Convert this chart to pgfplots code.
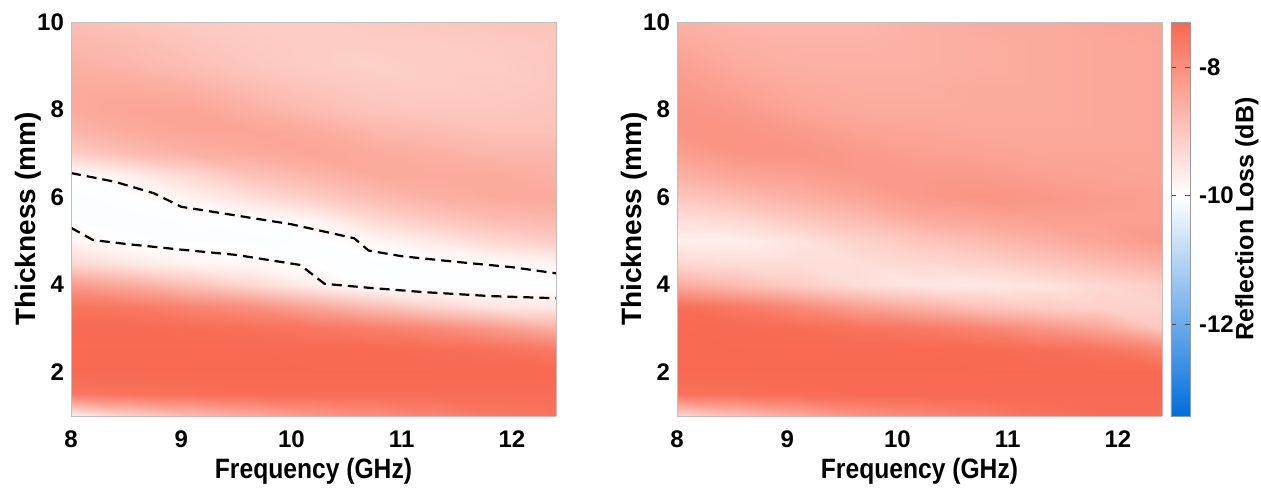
\documentclass[border=0pt]{standalone}
\usepackage{fontspec}
\setmainfont{Liberation Sans}
\usepackage{pgfplots}
\pgfplotsset{compat=1.18}
\usepackage{pgfplotstable}

% x: 8 8.55 9.1 9.65 10.2 10.75 11.3 11.85 12.4 ; y: 1 ... 10 step 0.5
\pgfplotstableread[row sep=\\]{
x y z\\
8 1 -9.8\\ 8.55 1 -9.2\\ 9.1 1 -8.8\\ 9.65 1 -8.5\\ 10.2 1 -8.2\\ 10.75 1 -8.0\\ 11.3 1 -7.8\\ 11.85 1 -7.6\\ 12.4 1 -7.5\\
8 1.5 -7.6\\ 8.55 1.5 -7.5\\ 9.1 1.5 -7.45\\ 9.65 1.5 -7.4\\ 10.2 1.5 -7.4\\ 10.75 1.5 -7.4\\ 11.3 1.5 -7.4\\ 11.85 1.5 -7.4\\ 12.4 1.5 -7.4\\
8 2 -7.33\\ 8.55 2 -7.33\\ 9.1 2 -7.33\\ 9.65 2 -7.33\\ 10.2 2 -7.33\\ 10.75 2 -7.33\\ 11.3 2 -7.33\\ 11.85 2 -7.33\\ 12.4 2 -7.33\\
8 2.5 -7.33\\ 8.55 2.5 -7.33\\ 9.1 2.5 -7.33\\ 9.65 2.5 -7.33\\ 10.2 2.5 -7.35\\ 10.75 2.5 -7.35\\ 11.3 2.5 -7.38\\ 11.85 2.5 -7.45\\ 12.4 2.5 -7.6\\
8 3 -7.35\\ 8.55 3 -7.35\\ 9.1 3 -7.4\\ 9.65 3 -7.45\\ 10.2 3 -7.55\\ 10.75 3 -7.7\\ 11.3 3 -7.9\\ 11.85 3 -8.2\\ 12.4 3 -8.6\\
8 3.5 -7.5\\ 8.55 3.5 -7.6\\ 9.1 3.5 -7.8\\ 9.65 3.5 -8.0\\ 10.2 3.5 -8.4\\ 10.75 3.5 -8.8\\ 11.3 3.5 -9.2\\ 11.85 3.5 -9.5\\ 12.4 3.5 -9.6\\
8 4 -8.2\\ 8.55 4 -8.5\\ 9.1 4 -8.9\\ 9.65 4 -9.3\\ 10.2 4 -9.7\\ 10.75 4 -10.01\\ 11.3 4 -10.03\\ 11.85 4 -10.04\\ 12.4 4 -10.04\\
8 4.5 -9.3\\ 8.55 4.5 -9.6\\ 9.1 4.5 -9.8\\ 9.65 4.5 -9.9\\ 10.2 4.5 -10.01\\ 10.75 4.5 -10.04\\ 11.3 4.5 -10.02\\ 11.85 4.5 -9.95\\ 12.4 4.5 -9.8\\
8 5 -9.8\\ 8.55 5 -10.03\\ 9.1 5 -10.04\\ 9.65 5 -10.05\\ 10.2 5 -10.03\\ 10.75 5 -9.85\\ 11.3 5 -9.6\\ 11.85 5 -9.3\\ 12.4 5 -9.1\\
8 5.5 -10.04\\ 8.55 5.5 -10.05\\ 9.1 5.5 -10.03\\ 9.65 5.5 -10.01\\ 10.2 5.5 -9.8\\ 10.75 5.5 -9.3\\ 11.3 5.5 -9.0\\ 11.85 5.5 -8.8\\ 12.4 5.5 -8.7\\
8 6 -10.05\\ 8.55 6 -10.01\\ 9.1 6 -9.75\\ 9.65 6 -9.4\\ 10.2 6 -9.1\\ 10.75 6 -8.8\\ 11.3 6 -8.6\\ 11.85 6 -8.5\\ 12.4 6 -8.5\\
8 6.5 -10.01\\ 8.55 6.5 -9.7\\ 9.1 6.5 -9.3\\ 9.65 6.5 -8.9\\ 10.2 6.5 -8.7\\ 10.75 6.5 -8.5\\ 11.3 6.5 -8.5\\ 11.85 6.5 -8.5\\ 12.4 6.5 -8.6\\
8 7 -9.1\\ 8.55 7 -8.8\\ 9.1 7 -8.6\\ 9.65 7 -8.5\\ 10.2 7 -8.4\\ 10.75 7 -8.5\\ 11.3 7 -8.6\\ 11.85 7 -8.7\\ 12.4 7 -8.7\\
8 7.5 -8.7\\ 8.55 7.5 -8.5\\ 9.1 7.5 -8.4\\ 9.65 7.5 -8.4\\ 10.2 7.5 -8.5\\ 10.75 7.5 -8.7\\ 11.3 7.5 -8.8\\ 11.85 7.5 -8.9\\ 12.4 7.5 -8.9\\
8 8 -8.5\\ 8.55 8 -8.4\\ 9.1 8 -8.4\\ 9.65 8 -8.6\\ 10.2 8 -8.8\\ 10.75 8 -8.95\\ 11.3 8 -9.0\\ 11.85 8 -9.0\\ 12.4 8 -8.95\\
8 8.5 -8.5\\ 8.55 8.5 -8.5\\ 9.1 8.5 -8.6\\ 9.65 8.5 -8.8\\ 10.2 8.5 -8.95\\ 10.75 8.5 -9.05\\ 11.3 8.5 -9.1\\ 11.85 8.5 -9.05\\ 12.4 8.5 -9.0\\
8 9 -8.6\\ 8.55 9 -8.7\\ 9.1 9 -8.85\\ 9.65 9 -9.0\\ 10.2 9 -9.1\\ 10.75 9 -9.15\\ 11.3 9 -9.1\\ 11.85 9 -9.1\\ 12.4 9 -9.0\\
8 9.5 -8.7\\ 8.55 9.5 -8.8\\ 9.1 9.5 -8.95\\ 9.65 9.5 -9.05\\ 10.2 9.5 -9.1\\ 10.75 9.5 -9.1\\ 11.3 9.5 -9.1\\ 11.85 9.5 -9.05\\ 12.4 9.5 -9.0\\
8 10 -8.85\\ 8.55 10 -8.95\\ 9.1 10 -9.05\\ 9.65 10 -9.1\\ 10.2 10 -9.1\\ 10.75 10 -9.05\\ 11.3 10 -9.0\\ 11.85 10 -8.95\\ 12.4 10 -8.95\\
}\leftdata

\pgfplotstableread[row sep=\\]{
x y z\\
8 1 -9.3\\ 8.55 1 -8.9\\ 9.1 1 -8.5\\ 9.65 1 -8.1\\ 10.2 1 -7.9\\ 10.75 1 -7.7\\ 11.3 1 -7.5\\ 11.85 1 -7.4\\ 12.4 1 -7.4\\
8 1.5 -7.5\\ 8.55 1.5 -7.45\\ 9.1 1.5 -7.4\\ 9.65 1.5 -7.35\\ 10.2 1.5 -7.35\\ 10.75 1.5 -7.35\\ 11.3 1.5 -7.35\\ 11.85 1.5 -7.35\\ 12.4 1.5 -7.35\\
8 2 -7.33\\ 8.55 2 -7.33\\ 9.1 2 -7.33\\ 9.65 2 -7.33\\ 10.2 2 -7.33\\ 10.75 2 -7.33\\ 11.3 2 -7.33\\ 11.85 2 -7.33\\ 12.4 2 -7.33\\
8 2.5 -7.33\\ 8.55 2.5 -7.33\\ 9.1 2.5 -7.33\\ 9.65 2.5 -7.33\\ 10.2 2.5 -7.33\\ 10.75 2.5 -7.35\\ 11.3 2.5 -7.4\\ 11.85 2.5 -7.5\\ 12.4 2.5 -7.8\\
8 3 -7.33\\ 8.55 3 -7.35\\ 9.1 3 -7.4\\ 9.65 3 -7.5\\ 10.2 3 -7.6\\ 10.75 3 -7.8\\ 11.3 3 -8.1\\ 11.85 3 -8.4\\ 12.4 3 -9.0\\
8 3.5 -7.4\\ 8.55 3.5 -7.6\\ 9.1 3.5 -7.9\\ 9.65 3.5 -8.3\\ 10.2 3.5 -8.6\\ 10.75 3.5 -8.9\\ 11.3 3.5 -9.1\\ 11.85 3.5 -9.2\\ 12.4 3.5 -9.2\\
8 4 -8.5\\ 8.55 4 -8.8\\ 9.1 4 -9.1\\ 9.65 4 -9.4\\ 10.2 4 -9.55\\ 10.75 4 -9.6\\ 11.3 4 -9.5\\ 11.85 4 -9.3\\ 12.4 4 -9.1\\
8 4.5 -9.3\\ 8.55 4.5 -9.4\\ 9.1 4.5 -9.4\\ 9.65 4.5 -9.4\\ 10.2 4.5 -9.3\\ 10.75 4.5 -9.2\\ 11.3 4.5 -9.0\\ 11.85 4.5 -8.8\\ 12.4 4.5 -8.6\\
8 5 -9.7\\ 8.55 5 -9.7\\ 9.1 5 -9.5\\ 9.65 5 -9.2\\ 10.2 5 -9.0\\ 10.75 5 -8.8\\ 11.3 5 -8.6\\ 11.85 5 -8.4\\ 12.4 5 -8.2\\
8 5.5 -9.4\\ 8.55 5.5 -9.3\\ 9.1 5.5 -9.0\\ 9.65 5.5 -8.8\\ 10.2 5.5 -8.5\\ 10.75 5.5 -8.4\\ 11.3 5.5 -8.3\\ 11.85 5.5 -8.3\\ 12.4 5.5 -8.3\\
8 6 -9.0\\ 8.55 6 -8.8\\ 9.1 6 -8.6\\ 9.65 6 -8.4\\ 10.2 6 -8.2\\ 10.75 6 -8.1\\ 11.3 6 -8.15\\ 11.85 6 -8.25\\ 12.4 6 -8.3\\
8 6.5 -8.6\\ 8.55 6.5 -8.4\\ 9.1 6.5 -8.3\\ 9.65 6.5 -8.2\\ 10.2 6.5 -8.2\\ 10.75 6.5 -8.2\\ 11.3 6.5 -8.3\\ 11.85 6.5 -8.35\\ 12.4 6.5 -8.4\\
8 7 -8.3\\ 8.55 7 -8.1\\ 9.1 7 -8.1\\ 9.65 7 -8.2\\ 10.2 7 -8.3\\ 10.75 7 -8.35\\ 11.3 7 -8.4\\ 11.85 7 -8.4\\ 12.4 7 -8.4\\
8 7.5 -8.1\\ 8.55 7.5 -8.1\\ 9.1 7.5 -8.2\\ 9.65 7.5 -8.35\\ 10.2 7.5 -8.4\\ 10.75 7.5 -8.45\\ 11.3 7.5 -8.45\\ 11.85 7.5 -8.45\\ 12.4 7.5 -8.4\\
8 8 -8.1\\ 8.55 8 -8.2\\ 9.1 8 -8.4\\ 9.65 8 -8.5\\ 10.2 8 -8.5\\ 10.75 8 -8.5\\ 11.3 8 -8.5\\ 11.85 8 -8.45\\ 12.4 8 -8.4\\
8 8.5 -8.2\\ 8.55 8.5 -8.35\\ 9.1 8.5 -8.5\\ 9.65 8.5 -8.55\\ 10.2 8.5 -8.55\\ 10.75 8.5 -8.5\\ 11.3 8.5 -8.5\\ 11.85 8.5 -8.45\\ 12.4 8.5 -8.4\\
8 9 -8.3\\ 8.55 9 -8.5\\ 9.1 9 -8.6\\ 9.65 9 -8.6\\ 10.2 9 -8.6\\ 10.75 9 -8.55\\ 11.3 9 -8.5\\ 11.85 9 -8.45\\ 12.4 9 -8.4\\
8 9.5 -8.45\\ 8.55 9.5 -8.6\\ 9.1 9.5 -8.65\\ 9.65 9.5 -8.65\\ 10.2 9.5 -8.6\\ 10.75 9.5 -8.55\\ 11.3 9.5 -8.5\\ 11.85 9.5 -8.45\\ 12.4 9.5 -8.4\\
8 10 -8.6\\ 8.55 10 -8.7\\ 9.1 10 -8.7\\ 9.65 10 -8.7\\ 10.2 10 -8.6\\ 10.75 10 -8.5\\ 11.3 10 -8.5\\ 11.85 10 -8.4\\ 12.4 10 -8.4\\
}\rightdata

\pgfplotsset{
  colormap={rl}{rgb255(0pt)=(0,110,220) rgb255(559pt)=(255,255,255) rgb255(1000pt)=(248,104,80)},
  rlaxis/.style={
    width=242.5pt, height=197pt, scale only axis,
    view={0}{90},
    xmin=8, xmax=12.4, ymin=1, ymax=10,
    xtick={8,9,10,11,12}, ytick={2,4,6,8,10},
    colormap name=rl,
    point meta min=-13.42, point meta max=-7.305,
    axis line style={black!25},
    major tick length=0pt,
    /pgf/number format/assume math mode=true,
    tick label style={font=\bfseries\fontsize{12}{13}\selectfont},
    xticklabel style={yshift=-4pt},
    xlabel={\scalebox{0.88}[1]{Frequency (GHz)}},
    ylabel={Thickness (mm)},
    label style={font=\bfseries\fontsize{14}{16}\selectfont},
    xlabel style={at={(axis description cs:0.5,-0.14)}, anchor=center},
    ylabel style={at={(axis description cs:-0.089,0.5)}, anchor=center},
    axis on top,
  },
}

\begin{document}
\begin{tikzpicture}
\path[use as bounding box] (-35.5pt,-36pt) rectangle (595pt,208pt);
\begin{axis}[rlaxis, at={(0pt,0pt)}, anchor=south west]
\addplot3[surf, shader=interp, mesh/cols=9, mesh/rows=19, point meta=\thisrow{z}] table[x=x, y=y, z=z] {\leftdata};
\addplot3[black, line width=1.1pt, no marks, dash pattern=on 5pt off 3pt] coordinates {
(8,6.55,-7) (8.4,6.35,-7) (8.75,6.09,-7) (9.0,5.78,-7) (9.5,5.58,-7) (10.0,5.38,-7) (10.57,5.06,-7) (10.7,4.78,-7) (11.0,4.65,-7) (11.5,4.52,-7) (12.0,4.40,-7) (12.4,4.26,-7)};
\addplot3[black, line width=1.1pt, no marks, dash pattern=on 5pt off 3pt] coordinates {
(8,5.3,-7) (8.2,5.02,-7) (8.5,4.93,-7) (9.0,4.8,-7) (9.5,4.68,-7) (10.08,4.45,-7) (10.3,4.02,-7) (10.7,3.93,-7) (11.2,3.83,-7) (11.8,3.74,-7) (12.4,3.69,-7)};
\end{axis}
\begin{axis}[rlaxis, at={(303pt,0pt)}, anchor=south west,
  colorbar,
  colorbar shift/.style={xshift=4.5pt},
  colorbar style={
    at={(parent axis.north east)}, anchor=north west,
    width=9.5pt,
    ytick={-12,-10,-8},
    axis line style={black!40},
    major tick length=2.5pt,
    ytick align=inside,
    tick style={black!70},
    /pgf/number format/assume math mode=true,
    yticklabel style={font=\bfseries\fontsize{12}{13}\selectfont, xshift=1pt},
    ylabel={Reflection Loss (dB)},
    ylabel style={font=\bfseries\fontsize{12.5}{14}\selectfont,
      at={(axis description cs:4.0,0.5)}, anchor=center, rotate=0},
  }]
\addplot3[surf, shader=interp, mesh/cols=9, mesh/rows=19, point meta=\thisrow{z}] table[x=x, y=y, z=z] {\rightdata};
\end{axis}
\end{tikzpicture}
\end{document}
